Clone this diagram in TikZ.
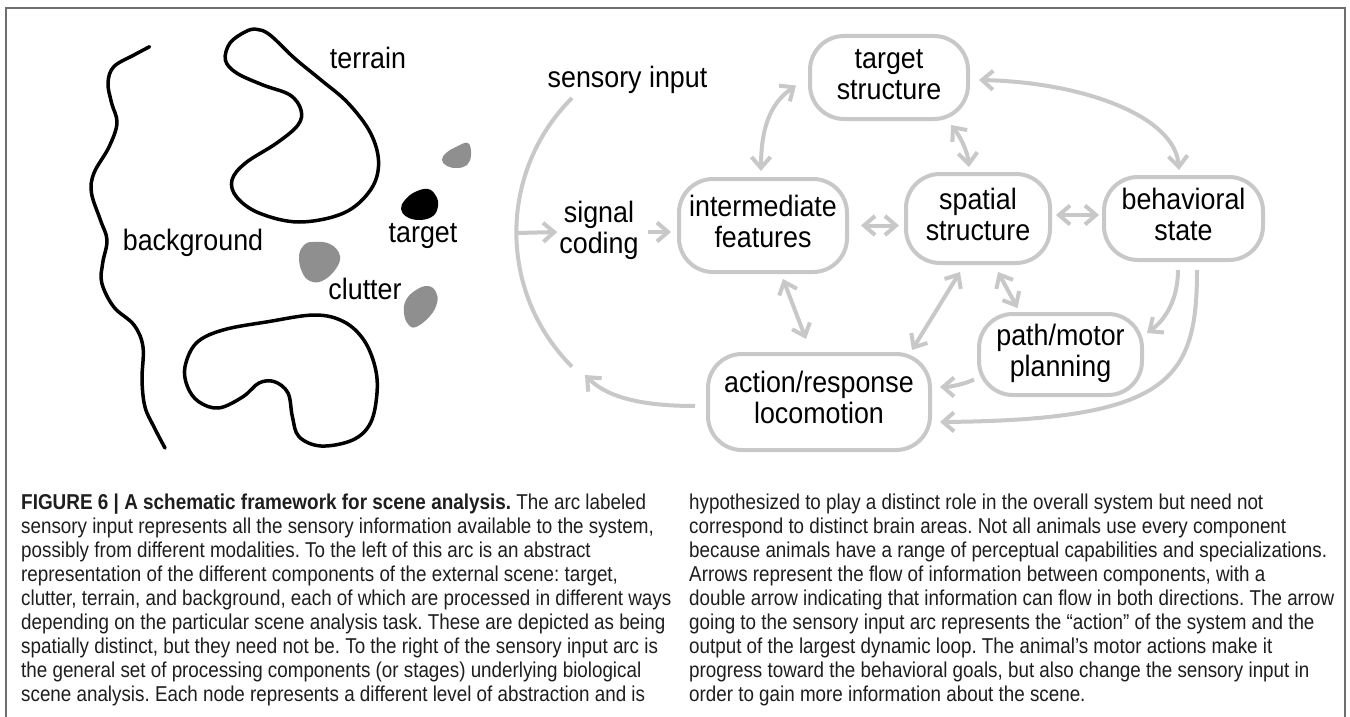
\documentclass[tikz,border=0pt]{standalone}
\usepackage{fontspec}
\setmainfont{Liberation Sans}
\newfontfamily\labfont{Liberation Sans}[FakeStretch=0.91]
\newfontfamily\capfont{Liberation Sans}[FakeStretch=0.875]
\newfontfamily\capbold{Liberation Sans Bold}[FakeStretch=0.88]
\usetikzlibrary{arrows.meta}
\definecolor{boxgray}{RGB}{200,200,200}
\definecolor{blobgray}{RGB}{143,143,143}
\definecolor{framegray}{RGB}{110,110,110}
\definecolor{captext}{RGB}{30,30,30}
\frenchspacing
\begin{document}
\begin{tikzpicture}[x=1pt,y=-1pt,
  >={Straight Barb[length=11pt,width=19pt]},
  lab/.style={font=\labfont\fontsize{29.5}{31}\selectfont, inner sep=0pt, anchor=base},
  box/.style={draw=boxgray, line width=4pt, rounded corners=34pt, inner sep=0pt, align=center,
              font=\labfont\fontsize{29.5}{31}\selectfont},
  conn/.style={draw=boxgray, line width=4pt},
  one/.style={conn, ->},
  two/.style={conn, <->},
  outline/.style={draw=black, line width=3.5pt, line join=round, line cap=round},
  captxt/.style={font=\capfont\fontsize{21.5}{24}\selectfont\frenchspacing, text=captext, inner sep=0pt, anchor=base west},
]
\useasboundingbox (0,0) rectangle (1350,717);
\fill[white] (0,0) rectangle (1350,717);
% frame
\draw[framegray, line width=1.5pt] (6,717) -- (6,8) -- (1345,8) -- (1345,717);

% ---------- left scene ----------
\draw[outline] plot[smooth, tension=0.6] coordinates {
 (149.6,46.7) (134,55) (113.8,66.7) (108,83) (111.6,103) (117,123) (109,147) (94,173)
 (91.5,193) (100.4,220) (107,240) (102.7,263) (101.8,283) (113.8,307) (134,325) (143,347)
 (142,380) (145,407) (154,427) (165,448)};
\draw[outline] plot[smooth cycle, tension=0.6] coordinates {
 (256.7,29.3) (270,35) (294.6,58.3) (321,80) (348,103) (370.5,133) (378.6,163) (370.5,190)
 (343.8,213) (299,222) (259,213) (236.6,197) (232,180) (245.5,163) (276.8,143) (298,125)
 (301,110) (290,95) (263,85) (236.6,73) (225.4,60) (230,43) (245.5,31.7)};
\draw[outline] plot[smooth cycle, tension=0.6] coordinates {
 (314.7,315) (343.8,321.7) (363.8,340) (375,366.7) (377,393) (370.5,423) (352.7,440) (321,446)
 (299,436.7) (292.4,416.7) (288,393) (274.5,381.7) (259,383) (243,396.7) (218.75,408)
 (198.7,401.7) (187.5,386.7) (185,366.7) (196.4,343) (223,330) (268,321.7)};
\fill[blobgray] plot[smooth cycle, tension=0.7] coordinates {
 (468,143) (471,155) (467,165) (457,168) (447,166) (442,160) (446,153) (456,147)};
\fill[black] plot[smooth cycle, tension=0.7] coordinates {
 (428,189) (436,196) (438,206) (433,216) (420,220) (407,217) (401,209) (405,200) (415,192)};
\fill[blobgray] plot[smooth cycle, tension=0.7] coordinates {
 (313,242) (330,244) (340,256) (335,270) (322,281) (310,281) (302,272) (299,256) (304,245)};
\fill[blobgray] plot[smooth cycle, tension=0.7] coordinates {
 (428,286) (436,292) (437,303) (430,316) (416,327) (408,324) (404,313) (406,300) (416,290)};

\node[lab] (terrain) at (368,69) {terrain};
\node[lab] (background) at (193,250) {background};
\node[lab] (targetlab) at (423,242) {target};
\node[lab] (clutter) at (365,299) {clutter};

% ---------- right diagram ----------
\node[lab] (sensory) at (627.5,88) {sensory input};
\node[lab, anchor=center, align=center] (sig) at (599,232) {\strut signal\\\strut coding};

\node[box, minimum width=158pt, minimum height=83pt] (tgt) at (889,77.5) {\strut target\\\strut structure};
\node[box, minimum width=168pt, minimum height=93pt] (inter) at (763,225.5) {\strut intermediate\\\strut features};
\node[box, minimum width=144pt, minimum height=89pt] (spat) at (978,218.5) {\strut spatial\\\strut structure};
\node[box, minimum width=159pt, minimum height=83pt] (beh) at (1183.5,218.5) {\strut behavioral\\\strut state};
\node[box, minimum width=163pt, minimum height=81pt] (pathn) at (1060.5,354.5) {\strut path/motor\\\strut planning};
\node[box, minimum width=222pt, minimum height=96pt] (act) at (819,402) {\strut action/response\\\strut locomotion};

% sensory input arc
\coordinate (arcTop) at (572,98);
\coordinate (arcMid) at (517,233);
\coordinate (arcRet) at (585,375);
\draw[conn] (arcTop) arc[start angle=135, end angle=225, radius=190pt];

\draw[one] (arcMid) -- ([xshift=-2pt]sig.west);
\draw[one] ([xshift=9pt]sig.east) -- ([xshift=-6pt]inter.west |- sig.east);
\draw[one] ([xshift=-11pt,yshift=-4pt]act.west) .. controls (635,406) and (605,395) .. (arcRet);

\draw[two] ([xshift=-2pt,yshift=6pt]inter.north) .. controls (761,120) and (775,100) .. ([xshift=-12pt,yshift=-8pt]tgt.west);
\draw[two] ([xshift=62pt,yshift=-4pt]tgt.south) .. controls (963,140) and (968,155) .. ([xshift=-9pt,yshift=5pt]spat.north);
\draw[two] ([xshift=9pt,yshift=-2.5pt]tgt.east) .. controls (1080,82) and (1175,115) .. ([xshift=-4.5pt,yshift=5pt]beh.north);
\draw[two] ([xshift=12pt]inter.east) -- ([xshift=-5pt]spat.west |- inter.east);
\draw[two] ([xshift=4pt,yshift=3.5pt]spat.east) -- ([xshift=-3pt,yshift=3.5pt]beh.west);
\draw[two] ([xshift=20pt,yshift=-5pt]inter.south) -- ([xshift=-13pt,yshift=13pt]act.north);
\draw[two] ([xshift=-18pt,yshift=-7pt]spat.south) -- ([xshift=93pt,yshift=2pt]act.north);
\draw[two] ([xshift=20pt,yshift=-7pt]spat.south) -- ([xshift=-43pt,yshift=4pt]pathn.north);
\draw[one] ([xshift=-5.5pt,yshift=-8pt]beh.south) .. controls (1178,300) and (1165,320) .. ([xshift=3pt,yshift=21.5pt]pathn.east);
\draw[one] ([xshift=13.5pt,yshift=-8pt]beh.south) .. controls (1197,380) and (1170,420) .. ([xshift=8pt,yshift=-20pt]act.east);
\draw[one] ([xshift=-3pt,yshift=-25pt]pathn.west) .. controls (965,384) and (950,387) .. ([xshift=8pt,yshift=15pt]act.east);

% ---------- caption ----------
\foreach \t [count=\i] in {
 {{\capbold FIGURE 6 | A schematic framework for scene analysis.} The arc labeled},
 {sensory input represents all the sensory information available to the system,},
 {possibly from different modalities. To the left of this arc is an abstract},
 {representation of the different components of the external scene: target,},
 {clutter, terrain, and background, each of which are processed in different ways},
 {depending on the particular scene analysis task. These are depicted as being},
 {spatially distinct, but they need not be. To the right of the sensory input arc is},
 {the general set of processing components (or stages) underlying biological},
 {scene analysis. Each node represents a different level of abstraction and is}}
 \node[captxt] (capL\i) at ({21},{509+24*(\i-1)}) {\t};
\foreach \t [count=\i] in {
 {hypothesized to play a distinct role in the overall system but need not},
 {correspond to distinct brain areas. Not all animals use every component},
 {because animals have a range of perceptual capabilities and specializations.},
 {Arrows represent the flow of information between components, with a},
 {double arrow indicating that information can flow in both directions. The arrow},
 {going to the sensory input arc represents the “action” of the system and the},
 {output of the largest dynamic loop. The animal’s motor actions make it},
 {progress toward the behavioral goals, but also change the sensory input in},
 {order to gain more information about the scene.}}
 \node[captxt] (capR\i) at ({689},{509+24*(\i-1)}) {\t};
\end{tikzpicture}
\end{document}
